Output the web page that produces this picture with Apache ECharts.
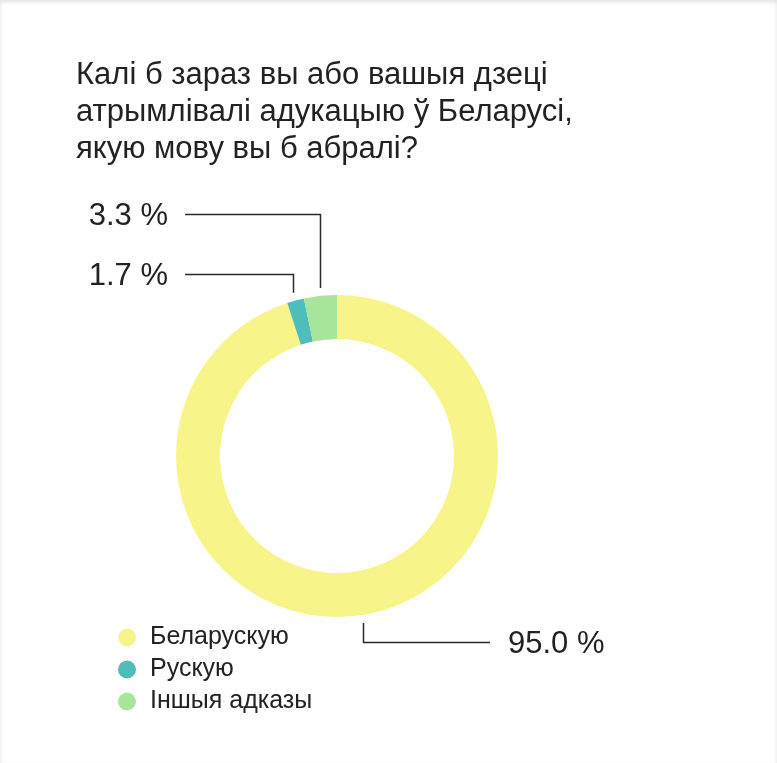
<!DOCTYPE html>
<html>
<head>
<meta charset="utf-8">
<script src="https://cdn.jsdelivr.net/npm/echarts@6/dist/echarts.min.js"></script>
<style>
  html, body { margin: 0; padding: 0; background: #fff; }
  body { box-shadow: inset 0 2px 4px rgba(0,0,0,0.12); }
  #chart { width: 777px; height: 763px; }
</style>
</head>
<body>
<div id="chart"></div>
<script>
  // дадзеныя
  var categories = ['Беларускую', 'Рускую', 'Іншыя адказы']
  var values = [95.0, 1.7, 3.3]
  var colors = ['#f7f48a', '#4fbdba', '#a7e59b']

  var center = [337, 456]
  var outerR = 161
  var innerR = 117

  // куды ставіць подпісы (x, y, бок)
  var labelPos = [
    { x: 508, y: 642, side: 'right', lineEnd: 490 },
    { x: 168, y: 274, side: 'left', lineEnd: 185 },
    { x: 168, y: 214, side: 'left', lineEnd: 185 }
  ]

  var total = values.reduce(function (a, b) { return a + b }, 0)

  // кропка на краі кольца для кожнага сектара
  function anchorOf(idx) {
    var before = 0
    for (var i = 0; i < idx; i++) before += values[i]
    var mid = (before + values[idx] / 2) / total * Math.PI * 2
    var r = outerR + 8
    return [center[0] + r * Math.sin(mid), center[1] - r * Math.cos(mid)]
  }

  var font = 'Liberation Sans'

  var myChart = echarts.init(document.getElementById('chart'))

  var option = {
    backgroundColor: 'transparent',
    color: colors,
    animation: false,
    title: {
      text: 'Калі б зараз вы або вашыя дзеці\nатрымлівалі адукацыю ў Беларусі,\nякую мову вы б абралі?',
      left: 71,
      top: 52,
      textStyle: {
        fontFamily: font,
        fontSize: 31,
        lineHeight: 37,
        fontWeight: 'normal',
        color: '#222'
      }
    },
    legend: {
      orient: 'vertical',
      left: 113,
      top: 620,
      icon: 'circle',
      itemWidth: 18,
      itemHeight: 18,
      itemGap: 7,
      selectedMode: false,
      textStyle: {
        fontFamily: font,
        fontSize: 25,
        color: '#222',
        padding: [0, 0, 0, 9]
      },
      data: categories
    },
    series: [
      {
        type: 'pie',
        center: center,
        radius: [innerR, outerR],
        startAngle: 90,
        clockwise: true,
        silent: true,
        label: {
          show: true,
          fontFamily: font,
          fontSize: 31,
          color: '#222',
          formatter: function (p) {
            return values[p.dataIndex].toFixed(1) + ' %'
          }
        },
        labelLine: {
          show: true,
          lineStyle: { color: '#2a2a2a', width: 1.5 }
        },
        labelLayout: function (params) {
          var lp = labelPos[params.dataIndex]
          var a = anchorOf(params.dataIndex)
          var ax = Math.round(a[0]) + 0.5
          return {
            x: lp.x,
            y: lp.y + 2,
            align: lp.side === 'left' ? 'right' : 'left',
            verticalAlign: 'middle',
            labelLinePoints: [[ax, a[1]], [ax, lp.y + 0.5], [lp.lineEnd, lp.y + 0.5]]
          }
        },
        data: categories.map(function (name, i) {
          return { name: name, value: values[i] }
        })
      }
    ]
  }

  myChart.setOption(option)
</script>
</body>
</html>
